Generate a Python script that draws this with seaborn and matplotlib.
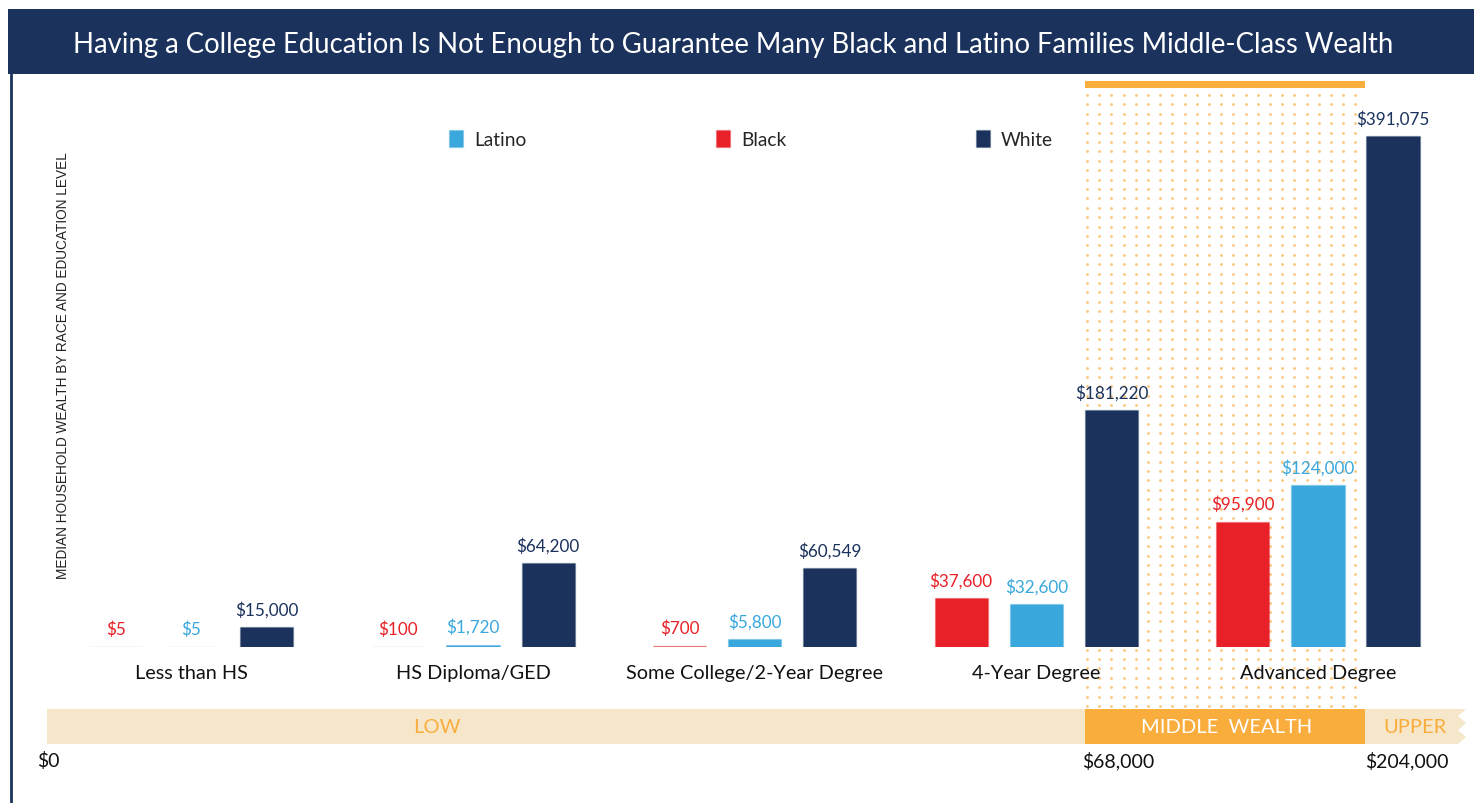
import numpy as np
import pandas as pd
import matplotlib
matplotlib.use("Agg")
import matplotlib.pyplot as plt
from matplotlib.patches import Rectangle, Polygon
import seaborn as sns

# ------------------------------------------------------------------
# data
# ------------------------------------------------------------------
levels = ["Less than HS", "HS Diploma/GED", "Some College/2-Year Degree",
          "4-Year Degree", "Advanced Degree"]
races = ["Black", "Latino", "White"]
black = [5, 100, 700, 37600, 95900]
latino = [5, 1720, 5800, 32600, 124000]
white = [15000, 64200, 60549, 181220, 391075]

legend_order = ["Latino", "Black", "White"]
wealth_ticks = ["$0", "$68,000", "$204,000"]
wealth_bands = ["LOW", "MIDDLE  WEALTH", "UPPER"]

NAVY = "#1b325d"
RED = "#e82129"
BLUE = "#3aa8dd"
ORANGE = "#f9ad3d"
BEIGE = "#f6e7cb"
palette = {"Black": RED, "Latino": BLUE, "White": NAVY}

df = pd.DataFrame({
    "level": np.repeat(levels, 3),
    "race": races * len(levels),
    "wealth": np.ravel(np.column_stack([black, latino, white])),
})

sns.set_style("white")
plt.rcParams["font.family"] = ["Lato", "DejaVu Sans"]

W, H = 1474, 804
fig = plt.figure(figsize=(W / 100, H / 100), dpi=100)

# background layer in pixel coordinates (banner, dotted band, wealth scale)
bg = fig.add_axes([0, 0, 1, 1], zorder=0)
bg.set_xlim(0, W)
bg.set_ylim(H, 0)
bg.axis("off")

bg.add_patch(Rectangle((8, 10), W - 8, 65, color=NAVY, lw=0))
bg.plot([11, 11], [75, H], color=NAVY, lw=2)
bg.text(733, 45, "Having a College Education Is Not Enough to Guarantee Many "
        "Black and Latino Families Middle-Class Wealth",
        color="white", fontsize=19.8, ha="center", va="center")

# middle-wealth dotted zone
gx, gy = np.meshgrid(np.arange(1087, 1364, 12.2), np.arange(96, 708, 9.4))
bg.scatter(gx.ravel(), gy.ravel(), s=4, color=ORANGE, alpha=0.7, lw=0)
bg.add_patch(Rectangle((1085, 82), 280, 7, color=ORANGE, lw=0))

# wealth band
bg.add_patch(Rectangle((47, 710), 1038, 35, color=BEIGE, lw=0))
bg.add_patch(Rectangle((1085, 710), 280, 35, color=ORANGE, lw=0))
zig_y = np.linspace(710, 745, 6)
zig_x = [1466 if i % 2 == 0 else 1458 for i in range(len(zig_y))]
bg.add_patch(Polygon([(1365, 710)] + list(zip(zig_x, zig_y)) + [(1365, 745)],
                     closed=True, color=BEIGE, lw=0))
band_x = [437, 1227, 1415]
band_c = [ORANGE, "white", ORANGE]
for x, t, c in zip(band_x, wealth_bands, band_c):
    bg.text(x, 728, t, color=c, fontsize=14.5, ha="center", va="center")
for x, t in zip([37, 1082, 1365], wealth_ticks):
    bg.text(x, 761, t, color="#111111", fontsize=14, ha="left", va="center")

bg.text(63, 366, "MEDIAN HOUSEHOLD WEALTH BY RACE AND EDUCATION LEVEL",
        rotation=90, fontsize=9.85, color="#222222", ha="center", va="center",
        family=["Liberation Sans", "DejaVu Sans"])

# ------------------------------------------------------------------
# bars
# ------------------------------------------------------------------
base_px, top_px = 648, 85
ax = fig.add_axes([0, (H - base_px) / H, 1, (base_px - top_px) / H], zorder=1)
ax.patch.set_alpha(0)

sns.barplot(data=df, x="level", y="wealth", hue="race", hue_order=races,
            order=levels, palette=palette, width=0.8, gap=0.29,
            saturation=1, errorbar=None, ax=ax, linewidth=0)

for bar in ax.patches:
    bar.set_edgecolor(matplotlib.colors.to_rgba(bar.get_facecolor(), 0.25))
    bar.set_linewidth(1)

for cont, race in zip(ax.containers, races):
    ax.bar_label(cont, labels=[f"${v:,.0f}" for v in cont.datavalues],
                 padding=7, color=palette[race], fontsize=12.3)

step = 281.6
ax.set_xlim(-191.5 / step, (W - 191.5) / step)
ax.set_ylim(0, 391075 * (base_px - top_px) / 511)
ax.set_xlabel("")
ax.set_ylabel("")
ax.set_yticks([])
ax.tick_params(axis="x", length=0, pad=12.5, labelsize=14.3, labelcolor="#111111")
sns.despine(ax=ax, left=True, bottom=True)

handles, labels = ax.get_legend_handles_labels()
lookup = dict(zip(labels, handles))
ax.legend([lookup[r] for r in legend_order], legend_order, ncol=3,
          loc="center left",
          bbox_to_anchor=(449 / W, (base_px - 140) / (base_px - top_px)),
          frameon=False, fontsize=13.8, handlelength=0.75, handleheight=0.95,
          handletextpad=0.55, columnspacing=9.9, borderaxespad=0, borderpad=0)

fig.savefig("out.png", dpi=100)
